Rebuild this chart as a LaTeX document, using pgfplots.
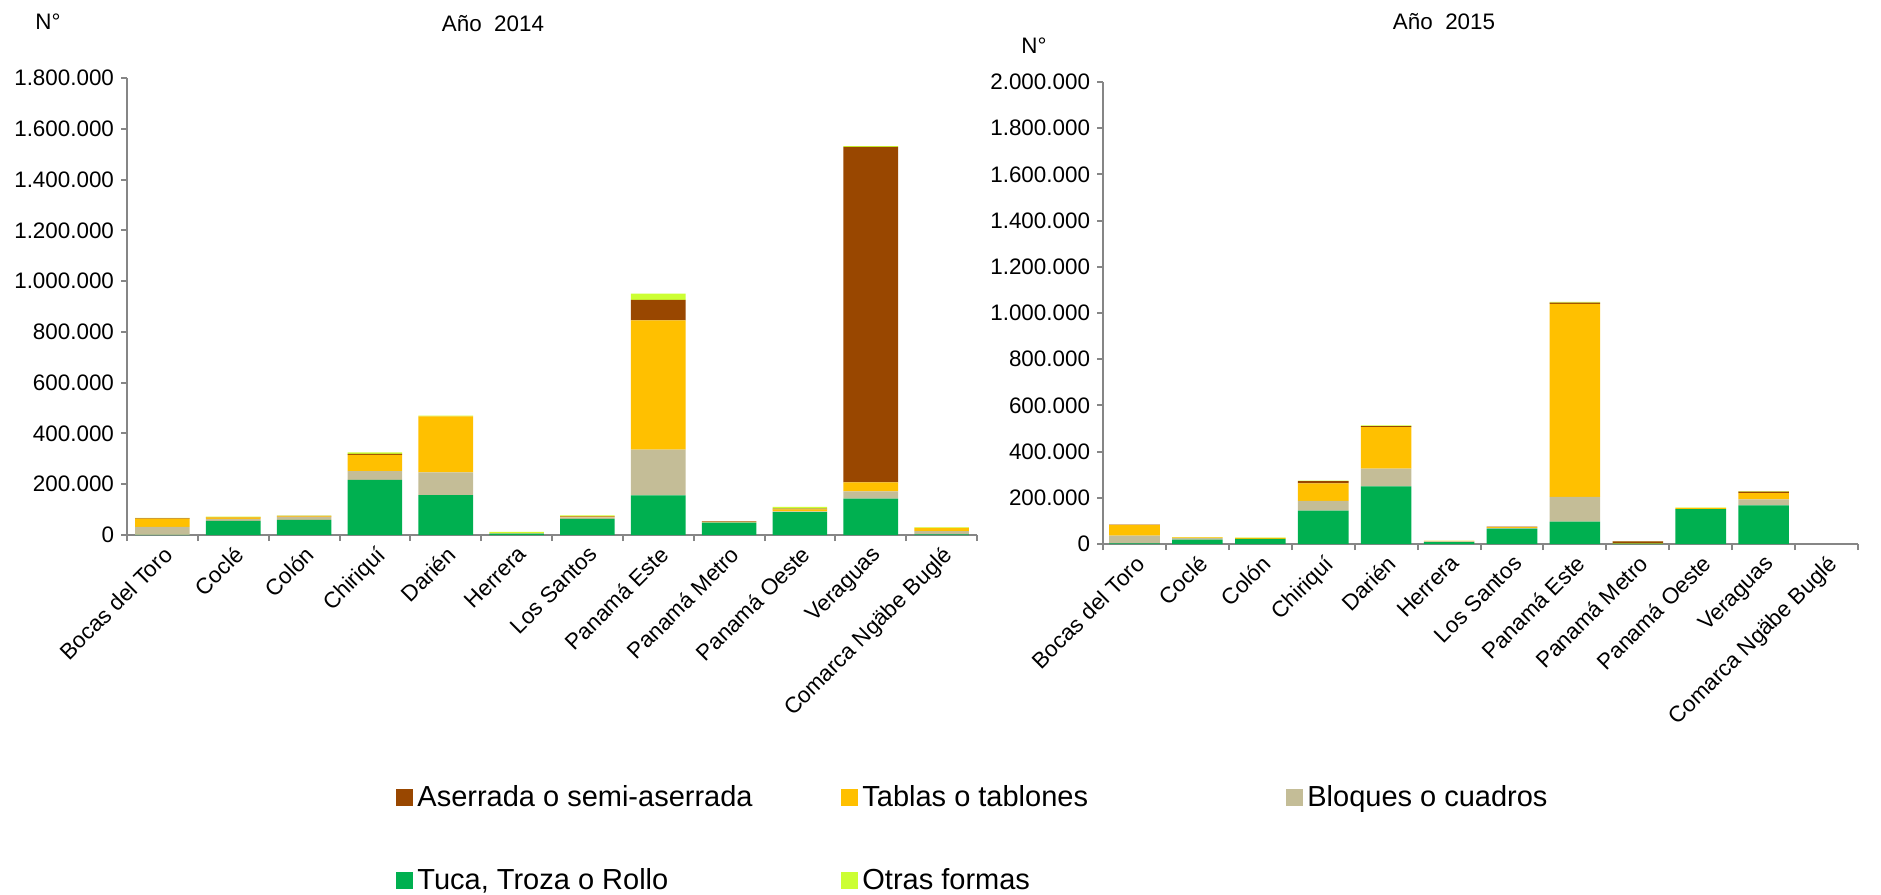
\documentclass[border=0pt]{standalone}
\usepackage{fontspec}
\setmainfont{Liberation Sans}
\usepackage{pgfplots}
\usepackage{pgfplotstable}
\pgfplotsset{compat=1.18}

\definecolor{aserr}{HTML}{994700}
\definecolor{tablas}{HTML}{FFC000}
\definecolor{bloq}{HTML}{C4BD97}
\definecolor{tuca}{HTML}{00B050}
\definecolor{otras}{HTML}{CCFF33}
\definecolor{axgray}{HTML}{868686}

% values in units
\pgfplotstableread{
x tuca bloques tablas aserr otras
0  1000   31000  33000  1000    1000
1  56000  8000   5000   1500    1500
2  60000  10000  3000   2000    1000
3  217000 35000  64000  4000    5000
4  157000 90000  220000 0       3000
5  5000   1000   2000   0       4000
6  64000  5000   3000   2000    3000
7  156000 180000 509000 81000   25000
8  49000  1000   2000   2000    0
9  90000  3000   8000   3000    7000
10 143000 29000  35000  1322000 3000
11 2000   13000  13000  0       2000
}\datA

\pgfplotstableread{
x tuca bloques tablas aserr otras
0  3000   33000  47000  1000  0
1  19000  6000   4000   0     1000
2  22000  0      4000   0     2000
3  145000 42000  75000  10000 2000
4  249000 77000  180000 4000  3000
5  8000   3000   2000   0     1000
6  67000  3000   3000   2000  0
7  97000  107000 836000 5000  3000
8  2000   0      2000   7000  1000
9  151000 0      5000   0     2000
10 167000 26000  27000  7000  2000
11 0      0      0      0     0
}\datB

\pgfplotsset{
  mybars/.style={
    scale only axis,
    ybar stacked,
    axis lines*=left,
    axis line style={axgray, line width=1bp},
    tick style={axgray, line width=1bp},
    tick align=outside,
    major tick length=3bp,
    xmin=-0.5, xmax=11.5, ymin=0,
    xtick={-0.5,0.5,...,11.5},
    xticklabels={},
    extra x ticks={0,1,...,11},
    extra x tick labels={Bocas del Toro,Coclé,Colón,Chiriquí,Darién,Herrera,Los Santos,Panamá Este,Panamá Metro,Panamá Oeste,Veraguas,Comarca Ngäbe Buglé},
    extra x tick style={major tick length=0pt,
      tick label style={rotate=45, anchor=north east, font=\fontsize{11.2bp}{13bp}\selectfont}},
    scaled y ticks=false,
    yticklabel style={font=\fontsize{11.2bp}{13bp}\selectfont,
      /pgf/number format/.cd, fixed, precision=0, 1000 sep={.}, assume math mode=true},
    every axis title shift=0pt,
    title style={font=\fontsize{11.2bp}{13bp}\selectfont, anchor=center},
    ylabel style={font=\fontsize{11.2bp}{13bp}\selectfont, rotate=-90, anchor=center},
    every axis plot/.append style={draw=none, forget plot},
  }
}

\begin{document}
\begin{tikzpicture}
\useasboundingbox (-63.5bp,-180bp) rectangle (877bp,267.5bp);

\begin{axis}[mybars,
  at={(0bp,0bp)}, anchor=south west,
  width=425bp, height=228.5bp,
  bar width=27.3bp,
  ymax=1800000, ytick={0,200000,...,1800000},
  title={Año~~2014},
  title style={at={(axis description cs:0.4306,1.118)}},
  ylabel={N°},
  ylabel style={at={(axis description cs:-0.0929,1.1225)}},
  legend columns=3,
  legend style={at={(axis description cs:0.3165,-0.538)}, anchor=north west,
    draw=none, inner sep=0pt, row sep=25.4bp,
    font=\fontsize{14.5bp}{17bp}\selectfont},
  legend image code/.code={\fill[#1] (0bp,-4.25bp) rectangle (8.5bp,4.25bp);},
]
\addplot[fill=tuca]    table[x=x,y=tuca]{\datA};
\addplot[fill=bloq]    table[x=x,y=bloques]{\datA};
\addplot[fill=tablas]  table[x=x,y=tablas]{\datA};
\addplot[fill=aserr]   table[x=x,y=aserr]{\datA};
\addplot[fill=otras]   table[x=x,y=otras]{\datA};
\addlegendimage{fill=aserr}
\addlegendentry{\makebox[210bp][l]{Aserrada o semi-aserrada}}
\addlegendimage{fill=tablas}
\addlegendentry{\makebox[210bp][l]{Tablas o tablones}}
\addlegendimage{fill=bloq}
\addlegendentry{\makebox[210bp][l]{Bloques o cuadros}}
\addlegendimage{fill=tuca}
\addlegendentry{\makebox[210bp][l]{Tuca, Troza o Rollo}}
\addlegendimage{fill=otras}
\addlegendentry{\makebox[210bp][l]{Otras formas}}
\end{axis}

\begin{axis}[mybars,
  at={(488bp,-4.5bp)}, anchor=south west,
  width=377.5bp, height=231bp,
  bar width=25.3bp,
  ymax=2000000, ytick={0,200000,...,2000000},
  title={Año~~2015},
  title style={at={(axis description cs:0.4517,1.130)}},
  ylabel={N°},
  ylabel style={at={(axis description cs:-0.0914,1.078)}},
]
\addplot[fill=tuca]    table[x=x,y=tuca]{\datB};
\addplot[fill=bloq]    table[x=x,y=bloques]{\datB};
\addplot[fill=tablas]  table[x=x,y=tablas]{\datB};
\addplot[fill=aserr]   table[x=x,y=aserr]{\datB};
\addplot[fill=otras]   table[x=x,y=otras]{\datB};
\end{axis}
\end{tikzpicture}
\end{document}
